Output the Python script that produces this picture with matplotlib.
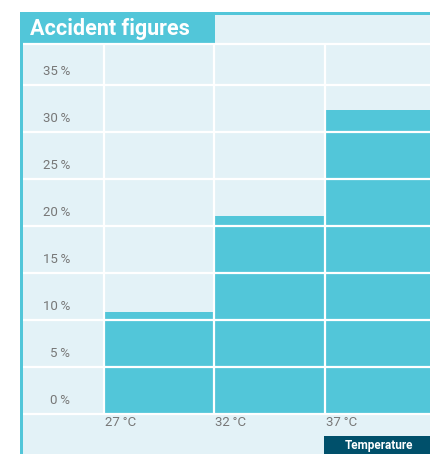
import matplotlib.pyplot as plt
from matplotlib.patches import Rectangle

# data
categories = ['27\u2009°C', '32\u2009°C', '37\u2009°C']
values = [10.8, 21.1, 32.3]
y_ticks = [0, 5, 10, 15, 20, 25, 30, 35]
y_labels = [f'{t}\u2009%' for t in y_ticks]

CYAN = '#52C6D9'
BG = '#E3F2F7'
DARK = '#00506B'
GREY = '#777777'

W, H = 430, 454
fig = plt.figure(figsize=(W / 100, H / 100), dpi=100)
fig.patch.set_facecolor('white')


def box(x, y, w, h, color, z=0):
    # pixel coords measured from top-left
    fig.patches.append(Rectangle((x / W, 1 - (y + h) / H), w / W, h / H,
                                 transform=fig.transFigure, color=color,
                                 zorder=z, lw=0))


box(20, 12, 410, 442, BG, -2)          # panel
box(20, 12, 410, 3, CYAN, -1)          # top border
box(20, 12, 2.5, 442, CYAN, 10)        # left border
box(20, 12, 195, 31, CYAN, -1)         # title box
box(324, 436, 106, 18, DARK, -1)       # x axis name box

fig.text(30 / W, 1 - 28.5 / H, 'Accident figures', color='white',
         fontsize=15.5, fontweight='bold', family='Roboto', va='center')
fig.text(379 / W, 1 - 445 / H, 'Temperature', color='white',
         fontsize=8.5, fontweight='bold', family='Roboto',
         ha='center', va='center')

# axes: left 22px, right 430px, top 44px, bottom 414px
bottom_px = 414
ax = fig.add_axes([22 / W, 1 - bottom_px / H, (430 - 22) / W, (bottom_px - 44) / H])
ax.set_zorder(5)
ax.set_facecolor('none')
for s in ax.spines.values():
    s.set_visible(False)
ax.set_xticks([])
ax.set_yticks([])

bar_px = 110.5
x0 = -0.5 - (103.5 - 22) / bar_px
x1 = -0.5 + (430 - 103.5) / bar_px
ymax = (bottom_px - 44) / 9.4
ax.set_xlim(x0, x1)
ax.set_ylim(0, ymax)

xs = list(range(len(categories)))
ax.bar(xs, values, width=1.0, color=CYAN, lw=0, zorder=1)

for t in y_ticks + [ymax]:
    ax.axhline(t, color='white', lw=1.6, zorder=2, clip_on=False)
for i in range(len(categories)):
    ax.plot([i - 0.5, i - 0.5], [0, ymax], color='white', lw=1.6, zorder=2)

for t, lab in zip(y_ticks, y_labels):
    ax.text(-0.8, t + 1.4, lab, ha='right', va='center', color=GREY,
            fontsize=9.5, family='Roboto')

for i, lab in enumerate(categories):
    ax.text(i - 0.49, -0.95, lab, ha='left', va='center', color=GREY,
            fontsize=9.5, family='Roboto', clip_on=False)

fig.savefig('out.png', dpi=100)
